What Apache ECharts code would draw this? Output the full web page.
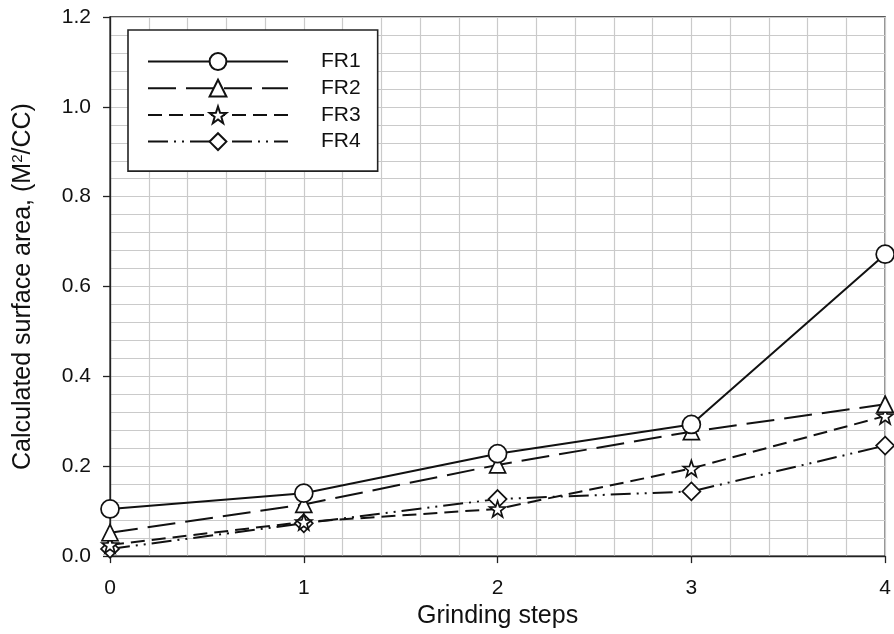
<!DOCTYPE html>
<html>
<head>
<meta charset="utf-8">
<script src="https://cdn.jsdelivr.net/npm/echarts@6/dist/echarts.min.js"></script>
<style>html,body{margin:0;padding:0;background:#fff}#c{width:894px;height:634px}</style>
</head>
<body>
<div id="c"></div>
<script>
const steps = [0, 1, 2, 3, 4];
const fr1 = [0.105, 0.140, 0.228, 0.293, 0.672];
const fr2 = [0.052, 0.115, 0.203, 0.277, 0.338];
const fr3 = [0.025, 0.076, 0.105, 0.195, 0.312];
const fr4 = [0.016, 0.073, 0.127, 0.144, 0.246];
const seriesNames = ['FR1', 'FR2', 'FR3', 'FR4'];

const STAR = 'path://M10,0 L12.35,6.76 L19.51,6.91 L13.8,11.24 L15.88,18.09 L10,14 L4.12,18.09 L6.2,11.24 L0.49,6.91 L7.65,6.76 Z';
const FONT = '"Liberation Sans", Arial, sans-serif';

function mk(name, vals, symbol, size, dash) {
  return {
    name: name,
    type: 'line',
    data: steps.map((s, i) => [s, vals[i]]),
    symbol: symbol,
    symbolSize: size,
    showAllSymbol: true,
    lineStyle: { color: '#111', width: 2, type: dash },
    itemStyle: { color: '#fff', borderColor: '#111', borderWidth: 1.7 },
    emphasis: { disabled: true },
    animation: false
  };
}

const chart = echarts.init(document.getElementById('c'), null, { renderer: 'canvas' });
chart.setOption({
  backgroundColor: '#fff',
  animation: false,
  grid: { left: 110, right: 7, top: 17, bottom: 74, show: true, borderColor: '#222', borderWidth: 1.3, backgroundColor: 'transparent' },
  legend: {
    left: 128, top: 30,
    orient: 'vertical',
    data: seriesNames,
    itemWidth: 140, itemHeight: 21, itemGap: 5.7,
    padding: [21, 17, 19, 19],
    borderColor: '#222', borderWidth: 1.6,
    backgroundColor: '#fff',
    textStyle: { fontFamily: FONT, fontSize: 21, color: '#111', padding: [0, 0, 0, 28] },
    selectedMode: false
  },
  xAxis: {
    type: 'value', min: 0, max: 4, interval: 1,
    name: 'Grinding steps', nameLocation: 'middle', nameGap: 47,
    nameTextStyle: { fontFamily: FONT, fontSize: 25, color: '#111' },
    axisLine: { show: true, onZero: false, lineStyle: { color: '#222', width: 1.3 } },
    axisTick: { show: true, inside: false, length: 7, lineStyle: { color: '#222', width: 1.3 } },
    axisLabel: { fontFamily: FONT, fontSize: 21, color: '#111', margin: 22 },
    splitLine: { show: true, lineStyle: { color: '#cacaca', width: 1.2 } },
    minorTick: { show: false, splitNumber: 5 },
    minorSplitLine: { show: true, lineStyle: { color: '#cacaca', width: 1.2 } }
  },
  yAxis: {
    type: 'value', min: 0, max: 1.2, interval: 0.2,
    name: 'Calculated surface area, (M{sup|2}/CC)', nameLocation: 'middle', nameGap: 73,
    nameTextStyle: { fontFamily: FONT, fontSize: 25, color: '#111',
      rich: { sup: { fontFamily: FONT, fontSize: 15, color: '#111', verticalAlign: 'bottom', padding: [0, 0, 12, 0] } } },
    axisLine: { show: true, lineStyle: { color: '#222', width: 1.3 } },
    axisTick: { show: true, inside: false, length: 7, lineStyle: { color: '#222', width: 1.3 } },
    axisLabel: { fontFamily: FONT, fontSize: 21, color: '#111', margin: 19, formatter: v => v.toFixed(1) },
    splitLine: { show: true, lineStyle: { color: '#cacaca', width: 1.2 } },
    minorTick: { show: false, splitNumber: 5 },
    minorSplitLine: { show: true, lineStyle: { color: '#cacaca', width: 1.2 } }
  },
  series: [
    mk('FR4', fr4, 'diamond', 18, [20, 6, 2, 6, 2, 6]),
    mk('FR3', fr3, STAR, 16, [14, 7]),
    mk('FR2', fr2, 'triangle', 16, [28, 10]),
    mk('FR1', fr1, 'circle', 18, 'solid')
  ]
});
</script>
</body>
</html>
